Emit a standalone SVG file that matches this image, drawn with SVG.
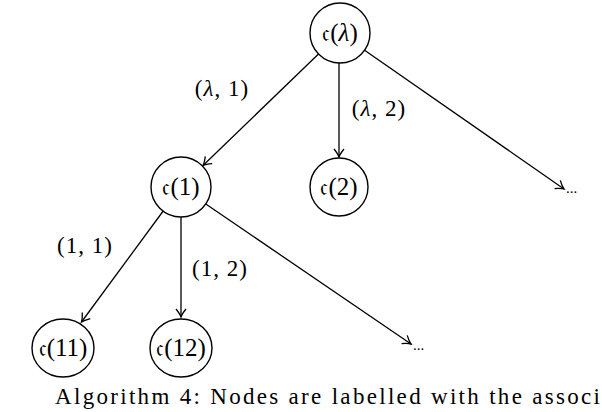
<svg xmlns="http://www.w3.org/2000/svg" width="602" height="412" viewBox="0 0 602 412">
<style>
.node{fill:#fff;stroke:#000;stroke-width:1.4}
.t{font-family:"Liberation Serif","DejaVu Serif",serif;font-size:25px;fill:#000;text-anchor:middle}
.l{font-family:"Liberation Serif","DejaVu Serif",serif;font-size:23px;fill:#000;text-anchor:middle;letter-spacing:1px}
.e{stroke:#000;stroke-width:1.3;fill:none;marker-end:url(#arr)}
.d{font-family:"Liberation Serif",serif;font-size:15px;fill:#000}
</style>
<defs>
<marker id="arr" viewBox="-10 -6 12 12" refX="0" refY="0" markerWidth="12" markerHeight="12" markerUnits="userSpaceOnUse" orient="auto">
<path d="M-8,-5 Q-3,-1 0,0 Q-3,1 -8,5" fill="none" stroke="#000" stroke-width="1.3"/>
</marker>
</defs>
<rect width="602" height="412" fill="#fff"/>
<g id="edges">
<line class="e" x1="318.5" y1="54" x2="203" y2="165.5"/>
<line class="e" x1="339" y1="63" x2="339" y2="157"/>
<line class="e" x1="364.6" y1="50.2" x2="564" y2="189"/>
<line class="e" x1="163.2" y1="211" x2="81.5" y2="322"/>
<line class="e" x1="181" y1="217" x2="181" y2="317"/>
<line class="e" x1="205.8" y1="204" x2="411" y2="344"/>
</g>
<g id="edge-labels">
<text class="l" x="222" y="96">(<tspan font-style="italic">λ</tspan>, 1)</text>
<text class="l" x="379" y="116">(<tspan font-style="italic">λ</tspan>, 2)</text>
<text class="l" x="85" y="253">(1, 1)</text>
<text class="l" x="220" y="276">(1, 2)</text>
</g>
<g id="n-lambda">
<circle class="node" cx="340" cy="33" r="30"/>
<text class="t" x="340" y="41">𝔠(<tspan font-style="italic">λ</tspan>)</text>
</g>
<g id="n-1">
<circle class="node" cx="181" cy="187" r="30"/>
<text class="t" x="181" y="195">𝔠(1)</text>
</g>
<g id="n-2">
<circle class="node" cx="339" cy="187" r="29"/>
<text class="t" x="339" y="195">𝔠(2)</text>
</g>
<g id="n-dots1">
<text class="d" x="566" y="193">...</text>
</g>
<g id="n-11">
<ellipse class="node" cx="63" cy="348" rx="31" ry="29"/>
<text class="t" x="63" y="356">𝔠(11)</text>
</g>
<g id="n-12">
<ellipse class="node" cx="181" cy="348" rx="31" ry="29"/>
<text class="t" x="181" y="356">𝔠(12)</text>
</g>
<g id="n-dots2">
<text class="d" x="413" y="350">...</text>
</g>
<text x="55" y="404" textLength="545" lengthAdjust="spacing" style="font-family:'Liberation Serif',serif;font-size:23px;fill:#000">Algorithm 4: Nodes are labelled with the associ</text>
</svg>
